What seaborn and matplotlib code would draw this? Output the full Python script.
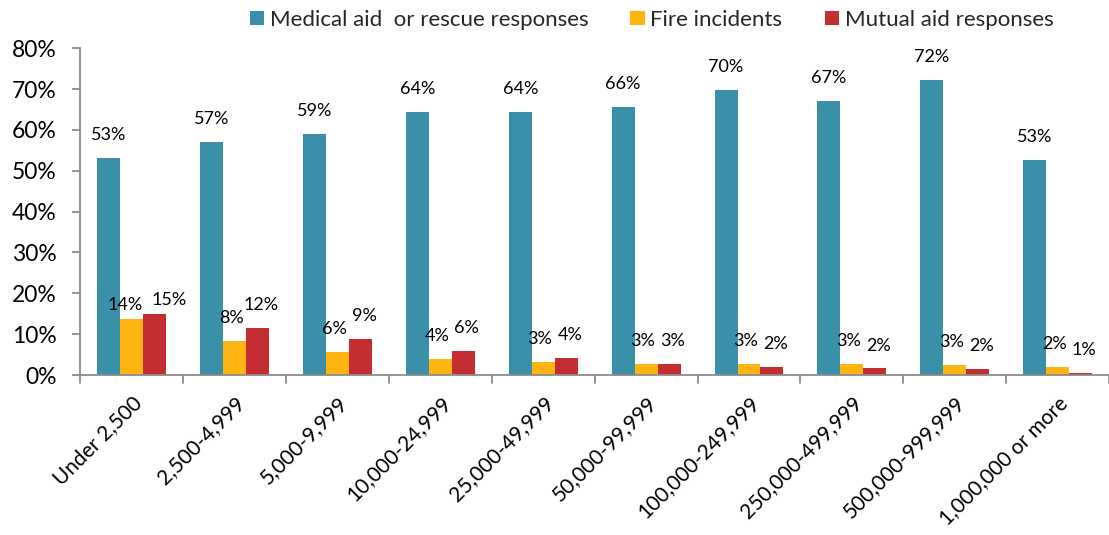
import matplotlib
matplotlib.use("Agg")
import matplotlib.pyplot as plt
import seaborn as sns
import pandas as pd
import numpy as np
from matplotlib.patches import Patch

categories = ["Under 2,500", "2,500-4,999", "5,000-9,999", "10,000-24,999", "25,000-49,999",
              "50,000-99,999", "100,000-249,999", "250,000-499,999", "500,000-999,999", "1,000,000 or more"]
series_names = ["Medical aid  or rescue responses", "Fire incidents", "Mutual aid responses"]
medical = [53.2, 57.1, 59.0, 64.3, 64.3, 65.7, 69.8, 67.1, 72.3, 52.6]
fire = [13.8, 8.4, 5.6, 3.9, 3.2, 2.7, 2.6, 2.6, 2.5, 2.0]
mutual = [14.9, 11.6, 8.8, 5.8, 4.1, 2.8, 2.0, 1.6, 1.5, 0.6]
medical_labels = ["53%", "57%", "59%", "64%", "64%", "66%", "70%", "67%", "72%", "53%"]
fire_labels = ["14%", "8%", "6%", "4%", "3%", "3%", "3%", "3%", "3%", "2%"]
mutual_labels = ["15%", "12%", "9%", "6%", "4%", "3%", "2%", "2%", "2%", "1%"]
colors = ["#3A90A8", "#FFB511", "#C42D31"]

rows = []
for name, vals in zip(series_names, [medical, fire, mutual]):
    for c, v in zip(categories, vals):
        rows.append({"cat": c, "series": name, "value": v})
df = pd.DataFrame(rows)

sns.set_theme(style="white")
plt.rcParams['font.family'] = ['Lato', 'DejaVu Sans']

fig = plt.figure(figsize=(11.09, 5.35), dpi=100)
ax = fig.add_axes([0.0725, 0.299, 0.9275, 0.611])

sns.barplot(data=df, x="cat", y="value", hue="series", order=categories,
            hue_order=series_names, palette=colors, width=0.67, ax=ax,
            saturation=1, legend=False, edgecolor="none", linewidth=0)

ax.set_ylim(0, 80)
ax.set_xlim(-0.5, len(categories) - 0.5)
ax.set_yticks(np.arange(0, 81, 10))
ax.set_yticklabels([f"{v}%" for v in range(0, 81, 10)], fontsize=16.5, color="#000000")
ax.set_xlabel("")
ax.set_ylabel("")

ax.set_xticks(np.arange(len(categories)))
ax.set_xticklabels(categories, rotation=45, ha="right", rotation_mode="anchor",
                   fontsize=15, color="#000000")
ax.tick_params(axis="x", length=0, pad=13)
for b in np.arange(-0.5, len(categories), 1.0):
    ax.plot([b, b], [0, -0.025], transform=ax.get_xaxis_transform(), color="#8C8C8C",
            lw=1.3, clip_on=False)
ax.tick_params(axis="y", length=6, color="#8C8C8C", width=1.3, pad=11, left=True)

for s in ["top", "right"]:
    ax.spines[s].set_visible(False)
for s in ["left", "bottom"]:
    ax.spines[s].set_color("#8C8C8C")
    ax.spines[s].set_linewidth(1.3)

# label placement style: small horizontal spread for side-by-side small bars
x_shift = [0, -2.5, 2.5]          # points, per series
first_group_extra = [0, -2, 8]    # the crowded first group
for si, (cont, labs) in enumerate(zip(ax.containers, [medical_labels, fire_labels, mutual_labels])):
    for gi, (bar, lab) in enumerate(zip(cont, labs)):
        h = bar.get_height()
        dx = x_shift[si] + (first_group_extra[si] if gi == 0 else 0)
        dy = 16.5 if not (gi == 0 and si > 0) else 10
        ax.annotate(lab, (bar.get_x() + bar.get_width() / 2, h),
                    xytext=(dx, dy), textcoords="offset points", ha="center", va="center",
                    fontsize=13, color="#000000")

handles = [Patch(facecolor=c, edgecolor="none") for c in colors]
fig.legend(handles, series_names, loc="center", bbox_to_anchor=(0.5875, 0.963), ncol=3,
           frameon=False, fontsize=16, handlelength=0.65, handleheight=0.65,
           handletextpad=0.25, columnspacing=1.9)

fig.savefig("out.png", dpi=100)
